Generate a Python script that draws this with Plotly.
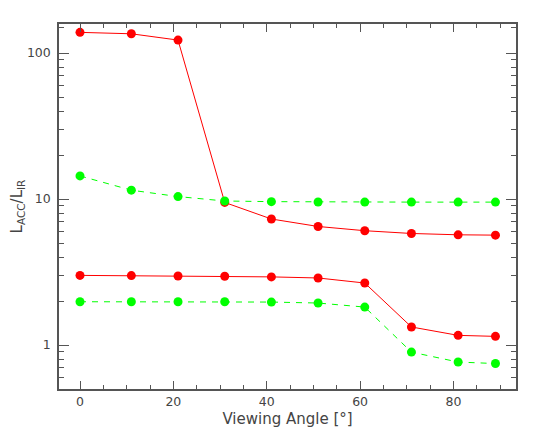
import plotly.graph_objects as go

angle = [0, 11, 21, 31, 41, 51, 61, 71, 81, 89]
red_high = [138.6, 135.5, 122.7, 9.48, 7.3, 6.49, 6.07, 5.81, 5.69, 5.66]
green_high = [14.4, 11.5, 10.4, 9.7, 9.6, 9.55, 9.53, 9.53, 9.53, 9.53]
red_low = [3.0, 2.99, 2.97, 2.96, 2.93, 2.88, 2.66, 1.33, 1.165, 1.147]
green_low = [1.98, 1.98, 1.98, 1.98, 1.97, 1.94, 1.82, 0.895, 0.765, 0.747]

RED = "#ff0000"
GREEN = "#00ff00"

fig = go.Figure()
for y, c, dash in [(red_high, RED, "solid"), (green_high, GREEN, "6px,6px"),
                   (red_low, RED, "solid"), (green_low, GREEN, "6px,6px")]:
    fig.add_trace(go.Scatter(x=angle, y=y, mode="lines+markers",
                             line=dict(color=c, width=1, dash=dash),
                             marker=dict(color=c, size=9),
                             showlegend=False))

minor_y = [0.5, 0.6, 0.7, 0.8, 0.9] + list(range(2, 10)) + list(range(20, 100, 10)) + [150]
axcol = "#555555"
fig.update_layout(
    width=529, height=420,
    margin=dict(l=51, r=21, t=16, b=39),
    plot_bgcolor="white", paper_bgcolor="white",
    font=dict(family="DejaVu Sans", size=12.5, color="#444444"),
    xaxis=dict(range=[-4.5, 93.4], tickvals=[0, 20, 40, 60, 80],
               ticks="inside", ticklen=8, tickcolor=axcol, tickwidth=1,
               minor=dict(dtick=5, tick0=0, ticks="inside", ticklen=4, tickcolor=axcol),
               showline=True, linecolor=axcol, linewidth=1.5, mirror="allticks",
               showgrid=False, zeroline=False, automargin=False,
               title=dict(text="Viewing Angle [°]", standoff=6)),
    yaxis=dict(type="log", range=[-0.301, 2.199], tickvals=[1, 10, 100],
               ticktext=["1", "10", "100"],
               ticks="inside", ticklen=10, tickcolor=axcol, tickwidth=1,
               minor=dict(tickvals=minor_y, ticks="inside", ticklen=5, tickcolor=axcol),
               showline=True, linecolor=axcol, linewidth=1.5, mirror="allticks",
               showgrid=False, zeroline=False, ticklabelstandoff=4, automargin=False,
               title=dict(text="L<sub>ACC</sub>/L<sub>IR</sub>", standoff=13)),
)
fig.write_html("out.html")
